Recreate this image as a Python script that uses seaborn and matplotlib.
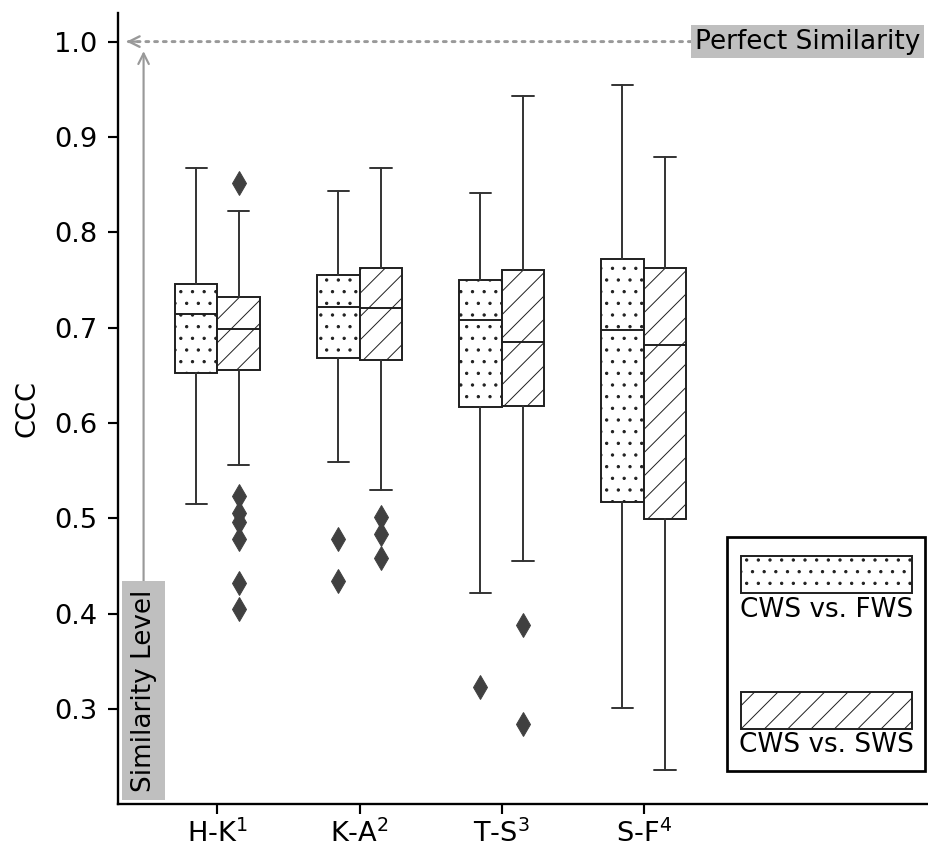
import matplotlib
matplotlib.use("Agg")
import matplotlib.pyplot as plt
from matplotlib.patches import Rectangle
import numpy as np
import seaborn as sns

pairs = ["H-K$^1$", "K-A$^2$", "T-S$^3$", "S-F$^4$"]
series = ["CWS vs. FWS", "CWS vs. SWS"]
hatches = [".", "/"]

# box summaries (CWS vs. FWS)
fws_whislo = [0.515, 0.559, 0.422, 0.301]
fws_q1 = [0.652, 0.668, 0.617, 0.517]
fws_med = [0.714, 0.722, 0.708, 0.697]
fws_q3 = [0.746, 0.755, 0.750, 0.772]
fws_whishi = [0.867, 0.843, 0.841, 0.955]
fws_fliers = [[], [0.478, 0.434], [0.323], []]

# box summaries (CWS vs. SWS)
sws_whislo = [0.556, 0.530, 0.455, 0.236]
sws_q1 = [0.656, 0.666, 0.618, 0.499]
sws_med = [0.699, 0.721, 0.685, 0.682]
sws_q3 = [0.732, 0.763, 0.760, 0.763]
sws_whishi = [0.822, 0.867, 0.943, 0.879]
sws_fliers = [[0.852, 0.523, 0.506, 0.496, 0.478, 0.432, 0.405],
              [0.501, 0.483, 0.458], [0.388, 0.284], []]

yticks = [0.3, 0.4, 0.5, 0.6, 0.7, 0.8, 0.9, 1.0]


def make_stats(lo, q1, med, q3, hi, fl):
    return [dict(whislo=lo[i], q1=q1[i], med=med[i], q3=q3[i], whishi=hi[i],
                 fliers=np.array(fl[i])) for i in range(len(med))]


sns.set_style("ticks")
plt.rcParams["font.family"] = ["DejaVu Sans"]
plt.rcParams["text.color"] = "black"
plt.rcParams["axes.labelcolor"] = "black"
plt.rcParams["xtick.color"] = "black"
plt.rcParams["ytick.color"] = "black"

DPI = 70
fig = plt.figure(figsize=(928 / DPI, 851 / DPI), dpi=DPI)
ax = fig.add_axes([118 / 928, (851 - 804.3) / 851, 810 / 928, 791.3 / 851])

edge = "0.12"
line = "0.2"
grey = "0.6"
x = np.arange(len(pairs))
groups = [make_stats(fws_whislo, fws_q1, fws_med, fws_q3, fws_whishi, fws_fliers),
          make_stats(sws_whislo, sws_q1, sws_med, sws_q3, sws_whishi, sws_fliers)]

for k, stats in enumerate(groups):
    ax.bxp(stats, positions=x + (k - 0.5) * 0.3, widths=0.3, patch_artist=True,
           boxprops=dict(facecolor="white", edgecolor=edge, linewidth=2.0, hatch=hatches[k]),
           medianprops=dict(color=edge, linewidth=2.0),
           whiskerprops=dict(color=line, linewidth=2.0),
           capprops=dict(color=line, linewidth=2.0),
           flierprops=dict(marker="d", markerfacecolor="0.25", markeredgecolor="0.25",
                           markersize=17, linestyle="none"),
           manage_ticks=False)

ax.set_xlim(-0.7, 5.0)
ax.set_ylim(0.2, 1.03)
ax.set_xticks(x)
ax.set_xticklabels(pairs)
ax.set_yticks(yticks)
ax.set_yticklabels([f"{v:.1f}" for v in yticks])
ax.set_ylabel("CCC", fontsize=28, labelpad=14)
ax.tick_params(labelsize=28, length=10, width=2.2)
ax.tick_params(axis="y", pad=11)
ax.tick_params(axis="x", pad=6)
sns.despine(ax=ax)
for s in ["left", "bottom"]:
    ax.spines[s].set_linewidth(2.4)
    ax.spines[s].set_color("black")

# reference line: dotted shaft, solid head
ax.annotate("Perfect Similarity", xy=(-0.64, 1.0), xytext=(4.945, 1.0),
            ha="right", va="center", fontsize=27,
            bbox=dict(boxstyle="square,pad=0.14", facecolor="#bfbfbf", edgecolor="none"),
            arrowprops=dict(arrowstyle="-", color=grey, lw=3, linestyle=(0, (1, 2)),
                            shrinkA=0, shrinkB=0))
ax.annotate("", xy=(-0.64, 1.0), xytext=(-0.575, 1.0),
            arrowprops=dict(arrowstyle="->", color=grey, lw=2.4, shrinkA=0, shrinkB=0,
                            mutation_scale=27))
ax.annotate("Similarity Level", xy=(-0.52, 0.99), xytext=(-0.52, 0.319),
            ha="center", va="center", rotation=90, fontsize=27,
            bbox=dict(boxstyle="square,pad=0.32", facecolor="#bfbfbf", edgecolor="none"),
            arrowprops=dict(arrowstyle="->", color=grey, lw=2.2, shrinkA=0, shrinkB=0))

# legend box with handles above labels
ax.add_patch(Rectangle((0.752, 0.0425), 0.244, 0.295, transform=ax.transAxes,
                       facecolor="white", edgecolor="black", linewidth=2.8,
                       clip_on=False, zorder=5))
patch_y = [0.2674, 0.0952]
text_y = [0.2455, 0.0749]
for k in range(2):
    ax.add_patch(Rectangle((0.7688, patch_y[k]), 0.2111, 0.0464, transform=ax.transAxes,
                           facecolor="white", edgecolor=edge, linewidth=2.0,
                           hatch=hatches[k], clip_on=False, zorder=6))
    ax.text(0.8743, text_y[k], series[k], transform=ax.transAxes, fontsize=27,
            ha="center", va="center", zorder=6)

fig.savefig("out.png", dpi=DPI)
